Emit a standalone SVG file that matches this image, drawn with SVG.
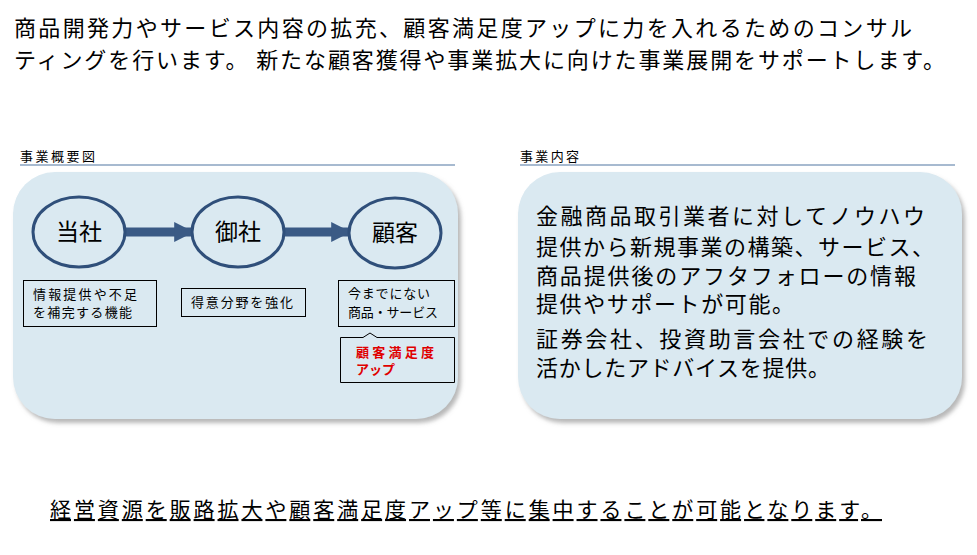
<svg xmlns="http://www.w3.org/2000/svg" width="977" height="555" viewBox="0 0 977 555">
<style>
text{font-family:"Noto Sans CJK JP","Noto Sans CJK SC",sans-serif;fill:#000}
.panel{fill:#dae9f1;filter:url(#sh)}
.hd{font-size:13px}
.hl{stroke:#8aa3c0;stroke-width:1.5}
.el{fill:#dae9f1;stroke:#2f4f7a;stroke-width:3}
.big{font-size:23px;text-anchor:middle}
.bx{fill:none;stroke:#000;stroke-width:1}
.sm{font-size:13px}
.body{font-size:22px}
</style>
<defs>
<filter id="sh" x="-5%" y="-5%" width="115%" height="115%"><feDropShadow dx="3" dy="4" stdDeviation="2" flood-color="#888" flood-opacity="0.6"/></filter>
<marker id="ah" viewBox="0 0 10 10" refX="9" refY="5" markerWidth="2.2" markerHeight="2.6" orient="auto" markerUnits="strokeWidth"><path d="M0,0L10,5L0,10z" fill="#3a5a85"/></marker>
</defs>
<rect width="977" height="555" fill="#fff"/>
<text x="14" y="36" style="font-size:22px" textLength="898" lengthAdjust="spacing">商品開発力やサービス内容の拡充、顧客満足度アップに力を入れるためのコンサル</text>
<text x="14" y="68" style="font-size:22px" textLength="931" lengthAdjust="spacing">ティングを行います。 新たな顧客獲得や事業拡大に向けた事業展開をサポートします。</text>
<g id="left">
<text class="hd" x="20" y="161" textLength="75">事業概要図</text>
<line class="hl" x1="20" y1="165" x2="455" y2="165"/>
<rect class="panel" x="13" y="172" width="445" height="247" rx="42"/>
</g>
<g id="connectors">
<line x1="125" y1="232" x2="192" y2="232" stroke="#3a5a85" stroke-width="9" marker-end="url(#ah)"/>
<line x1="284" y1="232" x2="349" y2="232" stroke="#3a5a85" stroke-width="9" marker-end="url(#ah)"/>
</g>
<g id="n1"><ellipse class="el" cx="79" cy="232" rx="46" ry="35"/><text class="big" x="79" y="240">当社</text></g>
<g id="n2"><ellipse class="el" cx="238" cy="232" rx="46" ry="35"/><text class="big" x="238" y="240">御社</text></g>
<g id="n3"><ellipse class="el" cx="395" cy="233" rx="46" ry="35"/><text class="big" x="395" y="241">顧客</text></g>
<g id="b1"><rect class="bx" x="23.5" y="280.5" width="133" height="46"/><text class="sm" x="33" y="299" textLength="104">情報提供や不足</text><text class="sm" x="33" y="317" textLength="99">を補完する機能</text></g>
<g id="b2"><rect class="bx" x="181.5" y="288.5" width="124" height="28"/><text class="sm" x="191" y="307" textLength="102">得意分野を強化</text></g>
<g id="b3"><rect class="bx" x="338.5" y="280.5" width="116" height="46"/><text class="sm" x="348" y="298" textLength="82">今までにない</text><text class="sm" x="348" y="317" textLength="90">商品・サービス</text></g>
<g id="b4"><path class="bx" d="M340.5,337.5H363L370,333L377,337.5H454.5V382.5H340.5Z" fill="#dae9f1"/><text class="sm" x="356" y="357" textLength="78" style="fill:#e00000;font-weight:bold">顧客満足度</text><text class="sm" x="356" y="374" style="fill:#e00000;font-weight:bold">アップ</text></g>
<g id="right">
<text class="hd" x="520" y="161" textLength="59">事業内容</text>
<line class="hl" x1="520" y1="165" x2="955" y2="165"/>
<rect class="panel" x="518" y="172" width="444" height="247" rx="42"/>
<text class="body" x="536" y="224" textLength="389">金融商品取引業者に対してノウハウ</text>
<text class="body" x="536" y="255" textLength="398">提供から新規事業の構築、サービス、</text>
<text class="body" x="536" y="284" textLength="380">商品提供後のアフタフォローの情報</text>
<text class="body" x="536" y="312" textLength="258">提供やサポートが可能。</text>
<text class="body" x="536" y="347" textLength="392">証券会社、投資助言会社での経験を</text>
<text class="body" x="536" y="376" textLength="294">活かしたアドバイスを提供。</text>
</g>
<text x="50" y="517" style="font-size:21px;text-decoration:underline" textLength="832">経営資源を販路拡大や顧客満足度アップ等に集中することが可能となります。</text>
</svg>
